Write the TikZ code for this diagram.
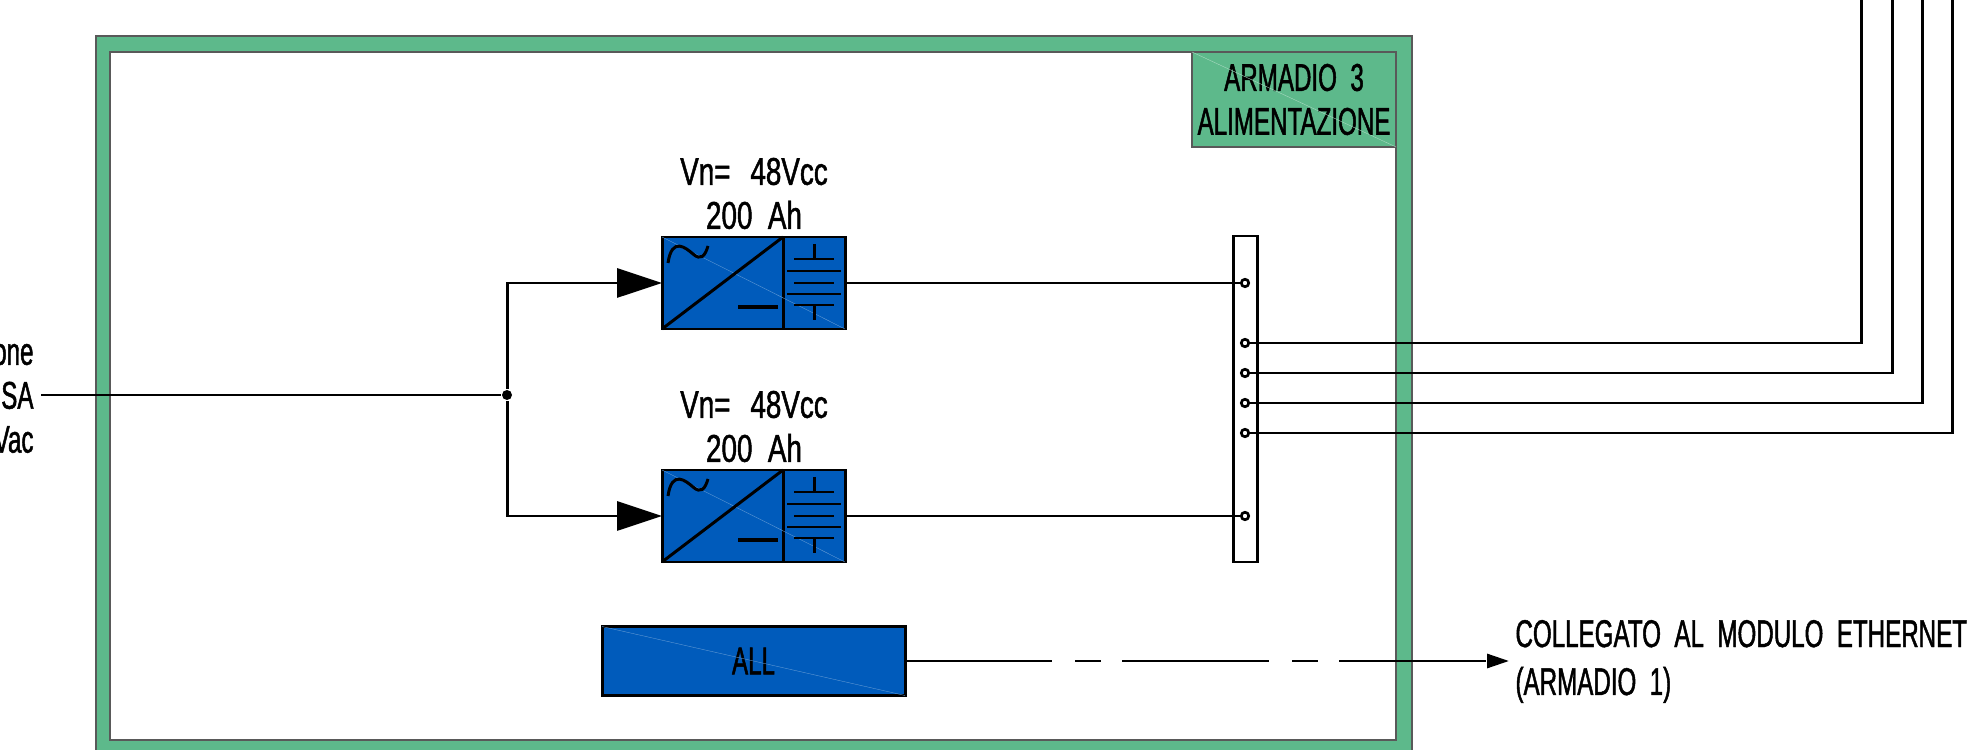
\documentclass[tikz,border=0pt]{standalone}
\usepackage{fontspec}
\setmainfont[FakeStretch=0.625, FakeBold=1.2]{Liberation Sans}
\newfontfamily\specfont[FakeStretch=0.72, FakeBold=1.2]{Liberation Sans}
\usetikzlibrary{arrows.meta}

\definecolor{armadiogreen}{HTML}{5DB98B}
\definecolor{convblue}{HTML}{005BBB}

\tikzset{
	frame/.style={rectangle, draw=black!65, line width=0.6pt, inner sep=0, outer sep=0},
	conv/.style={rectangle, draw, fill=convblue, inner sep=0, outer sep=0},
	terminal/.style={circle, draw, fill=white, line width=1.5pt, inner sep=0, minimum size=0.15cm},
	testo/.style={font=\fontsize{22}{25}\selectfont, inner sep=0},
	spectesto/.style={font=\fontsize{22}{25}\selectfont\specfont, inner sep=0},
	seam/.style={line width=0.2pt, draw=#1},
	bigtip/.style={-{Triangle[length=0.9cm, width=0.58cm]}}
}

\begin{document}
\begin{tikzpicture} [align=center, line width=1.7pt]
\useasboundingbox (0,0) rectangle (39.58,14.98);

\path (15.08,7.03) node[frame, fill=armadiogreen, minimum width=26.32cm, minimum height=14.46cm] (outer) {}
	  (15.06,7.06) node[frame, fill=white, minimum width=25.72cm, minimum height=13.76cm] (inner) {}
	  (25.88,12.99) node[frame, testo, fill=armadiogreen, minimum width=4.08cm, minimum height=1.9cm] (title) {ARMADIO \ 3\\ALIMENTAZIONE};
\draw[seam=armadiogreen!50!white] (title.north west) -- (title.south east);

\path (0.70,7.01) node[testo, anchor=east, align=right] (source) {one\\SA\\Vac}
	  (15.08,11.11) node[spectesto] (spec1) {Vn= \ \kern2.5pt48Vcc\\200 \ Ah}
	  (15.08,6.45) node[spectesto] (spec2) {Vn= \ \kern2.5pt48Vcc\\200 \ Ah}
	  (30.28,1.75) node[testo, anchor=west, align=left] (eth) {COLLEGATO \ AL \ MODULO \ ETHERNET\\[2.3pt](ARMADIO \ 1)};

\path (14.45,9.32) node[conv, minimum width=2.42cm, minimum height=1.84cm] (r1) {}
	  (16.28,9.32) node[conv, minimum width=1.24cm, minimum height=1.84cm] (b1) {}
	  (14.45,4.66) node[conv, minimum width=2.42cm, minimum height=1.84cm] (r2) {}
	  (16.28,4.66) node[conv, minimum width=1.24cm, minimum height=1.84cm] (b2) {}
	  (15.07,1.76) node[conv, testo, minimum width=6.06cm, minimum height=1.38cm] (all) {ALL};

\draw[seam=convblue!60!white] (r1.north west) -- (b1.south east);
\draw[seam=convblue!60!white] (r2.north west) -- (b2.south east);
\draw[seam=convblue!60!white] (all.north west) -- (all.south east);

\draw (r1.south west) -- (r1.north east);
\draw (13.36,9.72) .. controls (13.44,10.26) and (13.72,10.02) .. (13.86,9.9) .. controls (14.02,9.76) and (14.1,9.86) .. (14.16,10.06);
\draw[line width=2.2pt] (14.76,8.84) -- (15.56,8.84);
\draw (16.28,10.10) -- (16.28,9.80)
	  (15.88,9.80) -- (16.68,9.80)
	  (15.74,9.56) -- (16.82,9.56)
	  (15.88,9.32) -- (16.68,9.32)
	  (15.74,9.10) -- (16.82,9.10)
	  (15.88,8.88) -- (16.68,8.88)
	  (16.28,8.88) -- (16.28,8.58);

\draw (r2.south west) -- (r2.north east);
\draw (13.36,5.06) .. controls (13.44,5.60) and (13.72,5.36) .. (13.86,5.24) .. controls (14.02,5.10) and (14.1,5.20) .. (14.16,5.40);
\draw[line width=2.2pt] (14.76,4.18) -- (15.56,4.18);
\draw (16.28,5.44) -- (16.28,5.14)
	  (15.88,5.14) -- (16.68,5.14)
	  (15.74,4.90) -- (16.82,4.90)
	  (15.88,4.66) -- (16.68,4.66)
	  (15.74,4.44) -- (16.82,4.44)
	  (15.88,4.22) -- (16.68,4.22)
	  (16.28,4.22) -- (16.28,3.92);

\path (24.9,7.0) node[rectangle, draw, fill=white, inner sep=0, outer sep=0, minimum width=0.48cm, minimum height=6.52cm] (bar) {};

\path (24.9,9.32) node[terminal] (t1) {}
	  (24.9,8.12) node[terminal] (t2) {}
	  (24.9,7.52) node[terminal] (t3) {}
	  (24.9,6.92) node[terminal] (t4) {}
	  (24.9,6.32) node[terminal] (t5) {}
	  (24.9,4.66) node[terminal] (t6) {};

\path (0.82,7.08) coordinate (in)
	  (10.14,7.08) node[circle, fill, inner sep=0, minimum size=0.2cm] (j) {}
	  (37.22,15.2) coordinate (e2)
	  (37.84,15.2) coordinate (e3)
	  (38.44,15.2) coordinate (e4)
	  (39.04,15.2) coordinate (e5)
	  (30.18,1.76) coordinate (ethtip);

\draw (in) -- (j);
\draw[bigtip] (j) |- (r1.west);
\draw[bigtip] (j) |- (r2.west);
\draw (b1.east) -- (t1);
\draw (b2.east) -- (t6);
\draw (t2) -| (e2);
\draw (t3) -| (e3);
\draw (t4) -| (e4);
\draw (t5) -| (e5);
\draw[dash pattern=on 2.94cm off 0.46cm on 0.52cm off 0.42cm, -{Triangle[length=0.44cm, width=0.28cm]}] (all.east) -- (ethtip);
\end{tikzpicture}
\end{document}
